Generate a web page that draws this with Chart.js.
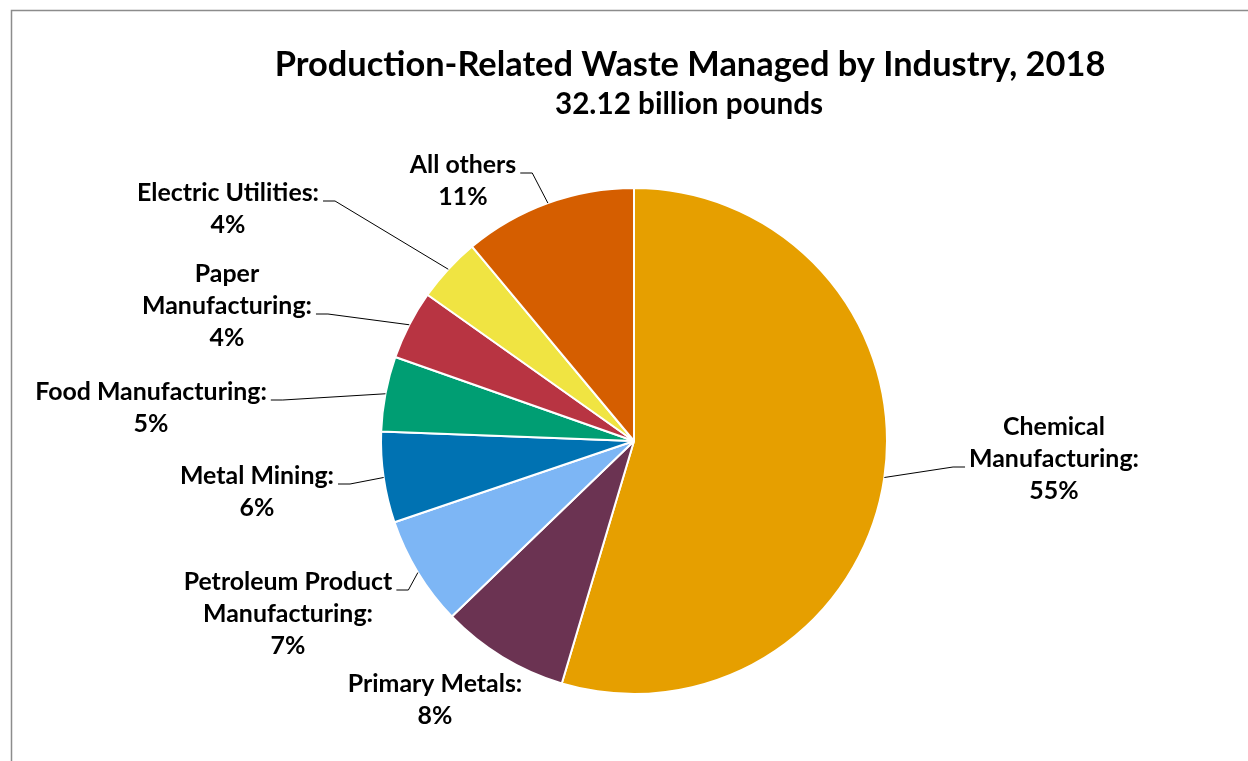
<!DOCTYPE html>
<html>
<head>
<meta charset="utf-8">
<script src="https://cdn.jsdelivr.net/npm/chart.js@4/dist/chart.umd.min.js"></script>
<style>
  html, body { margin: 0; padding: 0; background: #fff; overflow: hidden; }
  canvas { display: block; }
</style>
</head>
<body>
<canvas id="chart" width="1248" height="761"></canvas>
<script>
// data (billions of pounds, 2018)
const categories = [
  ['Chemical', 'Manufacturing:'],
  ['Primary Metals:'],
  ['Petroleum Product', 'Manufacturing:'],
  ['Metal Mining:'],
  ['Food Manufacturing:'],
  ['Paper', 'Manufacturing:'],
  ['Electric Utilities:'],
  ['All others']
];
const values = [17.54, 2.63, 2.25, 1.86, 1.54, 1.42, 1.33, 3.55];
const colors = ['#E69F00', '#6B3352', '#7DB6F5', '#0072B2', '#009E73', '#B83442', '#F0E442', '#D55E00'];

const titleText = 'Production-Related Waste Managed by Industry, 2018';
const subtitleText = '32.12 billion pounds';

// label layout: centre x, baseline of first line, which line gets the leader, side of the leader
const labelLayout = [
  { x: 1054, y: 435, lead: 1, side: 'left' },
  { x: 435,  y: 692, lead: -1 },
  { x: 288,  y: 590, lead: 0, side: 'right' },
  { x: 257,  y: 484, lead: 0, side: 'right' },
  { x: 151,  y: 400, lead: 0, side: 'right' },
  { x: 227,  y: 282, lead: 1, side: 'right' },
  { x: 228,  y: 201, lead: 0, side: 'right' },
  { x: 463,  y: 173, lead: 0, side: 'right' }
];

const FONT = 'Lato, "Open Sans", sans-serif';
const total = values.reduce((a, b) => a + b, 0);

function fitSize(ctx, text, width) {
  ctx.font = 'bold 100px ' + FONT;
  return 100 * width / ctx.measureText(text).width;
}

const textPlugin = {
  id: 'textPlugin',
  beforeDraw(chart) {
    const ctx = chart.ctx;
    ctx.save();
    ctx.strokeStyle = '#8c8c8c';
    ctx.lineWidth = 1.5;
    ctx.beginPath();
    ctx.moveTo(11.5, 800);
    ctx.lineTo(11.5, 10.5);
    ctx.lineTo(1300, 10.5);
    ctx.stroke();
    ctx.restore();
  },
  afterDraw(chart) {
    const ctx = chart.ctx;
    ctx.save();
    ctx.fillStyle = '#000';
    ctx.textAlign = 'center';
    ctx.textBaseline = 'alphabetic';

    ctx.font = 'bold ' + fitSize(ctx, titleText, 832).toFixed(1) + 'px ' + FONT;
    ctx.fillText(titleText, 690, 76);
    ctx.font = 'bold ' + fitSize(ctx, subtitleText, 268).toFixed(1) + 'px ' + FONT;
    ctx.fillText(subtitleText, 689, 114);

    const size = fitSize(ctx, 'Food Manufacturing:', 232);
    ctx.font = 'bold ' + size.toFixed(1) + 'px ' + FONT;
    const lineH = 32;
    const arcs = chart.getDatasetMeta(0).data;

    categories.forEach((lines, i) => {
      const lay = labelLayout[i];
      const pct = Math.round(values[i] / total * 100) + '%';
      const all = lines.concat([pct]);
      ctx.fillStyle = '#000';
      all.forEach((t, k) => ctx.fillText(t, lay.x, lay.y + k * lineH));

      if (lay.lead < 0) return;
      const arc = arcs[i];
      const mid = (arc.startAngle + arc.endAngle) / 2;
      const px = arc.x + Math.cos(mid) * arc.outerRadius;
      const py = arc.y + Math.sin(mid) * arc.outerRadius;
      const w = ctx.measureText(all[lay.lead]).width;
      const ly = lay.y + lay.lead * lineH;
      const sx = lay.side === 'right' ? lay.x + w / 2 + 4 : lay.x - w / 2 - 4;
      const ex = lay.side === 'right' ? sx + 12 : sx - 12;
      ctx.strokeStyle = '#000';
      ctx.lineWidth = 1;
      ctx.beginPath();
      ctx.moveTo(sx, ly);
      ctx.lineTo(ex, ly);
      ctx.lineTo(px, py);
      ctx.stroke();
    });
    ctx.restore();
  }
};

new Chart(document.getElementById('chart'), {
  type: 'pie',
  data: {
    labels: categories.map(l => l.join(' ')),
    datasets: [{
      data: values,
      backgroundColor: colors,
      borderColor: '#fff',
      borderWidth: 2
    }]
  },
  options: {
    responsive: false,
    animation: false,
    layout: { padding: { left: 380, right: 360, top: 187, bottom: 66 } },
    plugins: {
      legend: { display: false },
      tooltip: { enabled: false },
      title: { display: false }
    }
  },
  plugins: [textPlugin]
});
</script>
</body>
</html>
